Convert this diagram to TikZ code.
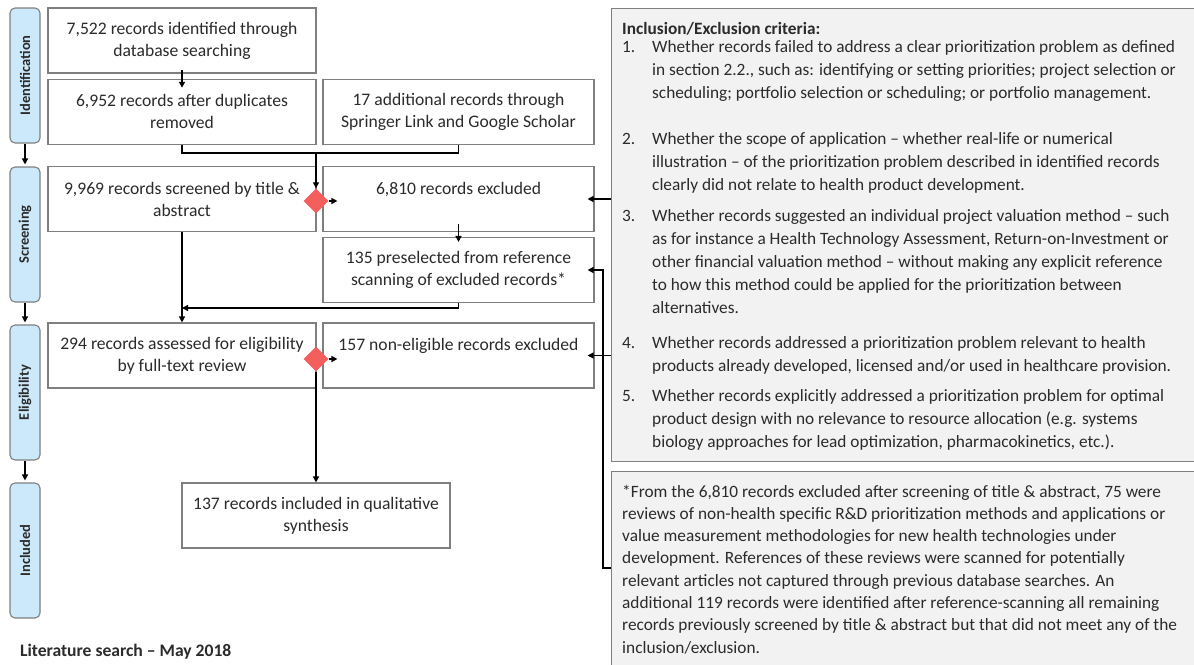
\documentclass[tikz,border=0pt]{standalone}
\usepackage{fontspec}
\setmainfont{Carlito}
\usetikzlibrary{shapes.geometric,arrows.meta}
\definecolor{boxgray}{HTML}{7F7F7F}
\definecolor{stageblue}{HTML}{CCE9FB}
\definecolor{panelgray}{HTML}{F2F2F2}
\definecolor{diared}{HTML}{F45E5C}
\definecolor{txtgray}{HTML}{2B2B2B}
\begin{document}
\begin{tikzpicture}[x=1pt,y=-1pt,
    every node/.style={text=txtgray},
    recbox/.style={draw=boxgray,fill=white,line width=1.1pt,minimum width=268pt,minimum height=65pt,
        inner sep=0pt,align=center,font=\fontsize{17.6}{22}\selectfont},
    widebox/.style={recbox,minimum width=271pt},
    stage/.style={draw=boxgray,fill=stageblue,line width=1.1pt,rounded corners=5pt,rotate=90,
        minimum width=135pt,minimum height=30pt,inner sep=0pt,font=\fontsize{14.5}{16}\selectfont\bfseries},
    decision/.style={diamond,fill=diared,minimum size=25pt,inner sep=0pt},
    panel/.style={draw=boxgray,fill=panelgray,line width=1.1pt,anchor=north west,minimum width=600pt},
    crittext/.style={anchor=north west,align=left,inner sep=0pt,font=\fontsize{17.3}{23}\selectfont},
    conn/.style={line width=1.3pt,black},
    arr/.style={conn,-{Triangle[length=6pt,width=6pt]}}]
\useasboundingbox (0,0) rectangle (1194,664);

% criteria and footnote panels
\node[panel,minimum height=453pt] (crit) at (611,8) {};
\node[panel,minimum height=200pt] (note) at (611,470.5) {};
\node[anchor=base west,inner sep=0pt,font=\fontsize{17.3}{23}\selectfont\bfseries] (critHead) at (622,34) {Inclusion/Exclusion criteria:};
\foreach \n/\y in {1/47,2/139,3/216,4/343,5/396}
    \node[crittext] (num\n) at (622,\y-10.75) {\strut\n.};
\node[crittext] (item1) at (652,36.25) {\strut Whether records failed to address a clear prioritization problem as defined\\
    in section 2.2., such as: identifying or setting priorities; project selection or\\
    scheduling; portfolio selection or scheduling; or portfolio management.};
\node[crittext] (item2) at (652,128.25) {\strut Whether the scope of application – whether real-life or numerical\\
    illustration – of the prioritization problem described in identified records\\
    clearly did not relate to health product development.};
\node[crittext] (item3) at (652,205.25) {\strut Whether records suggested an individual project valuation method – such\\
    as for instance a Health Technology Assessment, Return-on-Investment or\\
    other financial valuation method – without making any explicit reference\\
    to how this method could be applied for the prioritization between\\
    alternatives.};
\node[crittext] (item4) at (652,332.25) {\strut Whether records addressed a prioritization problem relevant to health\\
    products already developed, licensed and/or used in healthcare provision.};
\node[crittext] (item5) at (652,385.25) {\strut Whether records explicitly addressed a prioritization problem for optimal\\
    product design with no relevance to resource allocation (e.g. systems\\
    biology approaches for lead optimization, pharmacokinetics, etc.).};
\node[crittext,font=\fontsize{17.3}{22.3}\selectfont] (noteText) at (622,481.25) {\strut *From the 6,810 records excluded after screening of title \& abstract, 75 were\\
    reviews of non-health specific R\&D prioritization methods and applications or\\
    value measurement methodologies for new health technologies under\\
    development. References of these reviews were scanned for potentially\\
    relevant articles not captured through previous database searches. An\\
    additional 119 records were identified after reference-scanning all remaining\\
    records previously screened by title \& abstract but that did not meet any of the\\
    inclusion/exclusion.};

% stage labels
\node[stage] (stIdent) at (25,75.5) {Identification};
\node[stage] (stScreen) at (25,234.5) {Screening};
\node[stage] (stElig) at (25,392.5) {Eligibility};
\node[stage] (stIncl) at (25,550.5) {Included};
\draw[arr,shorten >=2pt] (stIdent.west) -- (stScreen.east);
\draw[arr,shorten >=2pt] (stScreen.west) -- (stElig.east);
\draw[arr,shorten >=2pt] (stElig.west) -- (stIncl.east);

% record boxes
\node[recbox] (ident) at (182,40.5) {7,522 records identified through\\database searching};
\node[recbox] (dedup) at (182,111.8) {6,952 records after duplicates\\removed};
\node[widebox] (extra) at (458.5,111.8) {17 additional records through\\Springer Link and Google Scholar};
\node[recbox] (screen) at (182,199) {9,969 records screened by title \&\\abstract};
\node[widebox] (excl) at (458.5,199) {6,810 records excluded\\\mbox{}};
\node[widebox] (presel) at (458.5,270) {135 preselected from reference\\scanning of excluded records*};
\node[recbox] (assess) at (182,355.5) {294 records assessed for eligibility\\by full-text review};
\node[widebox] (nonelig) at (458.5,355.5) {157 non-eligible records excluded\\\mbox{}};
\node[recbox] (incl) at (316,515.5) {137 records included in qualitative\\synthesis};
\node[decision] (dia1) at (316,201) {};
\node[decision] (dia2) at (316,359) {};

% flow
\draw[arr] ([yshift=4pt]ident.south) -- ([yshift=-9pt]dedup.north);
\coordinate (merge1) at (316,153);
\draw[conn] (dedup.south) |- (merge1);
\draw[conn] (extra.south) |- (merge1);
\draw[arr] (merge1) -- (dia1.north);
\draw[arr] (dia1.east) -- ([xshift=15pt]excl.west |- dia1.east);
\draw[arr] ([yshift=8pt]excl.south) -- ([yshift=-5pt]presel.north);
\draw[arr] (screen.south) -- (assess.north);
\coordinate (merge2) at (182,308);
\draw[arr] (presel.south) |- (merge2);
\draw[arr] (dia2.east) -- ([xshift=15pt]nonelig.west |- dia2.east);
\draw[arr] (dia2.south) -- (incl.north);

% links from the panels
\draw[arr,shorten >=-7pt] (crit.west |- excl.east) -- (excl.east);
\draw[arr,shorten >=-7pt] (crit.west |- nonelig.east) -- (nonelig.east);
\draw[arr,shorten >=-7pt] (note.west |- 0,568) -- ++(-8,0) |- (presel.east);

\node[anchor=west,inner sep=0pt,font=\fontsize{17.6}{20}\selectfont\bfseries] (search) at (20,651.7) {Literature search – May 2018};
\end{tikzpicture}
\end{document}
